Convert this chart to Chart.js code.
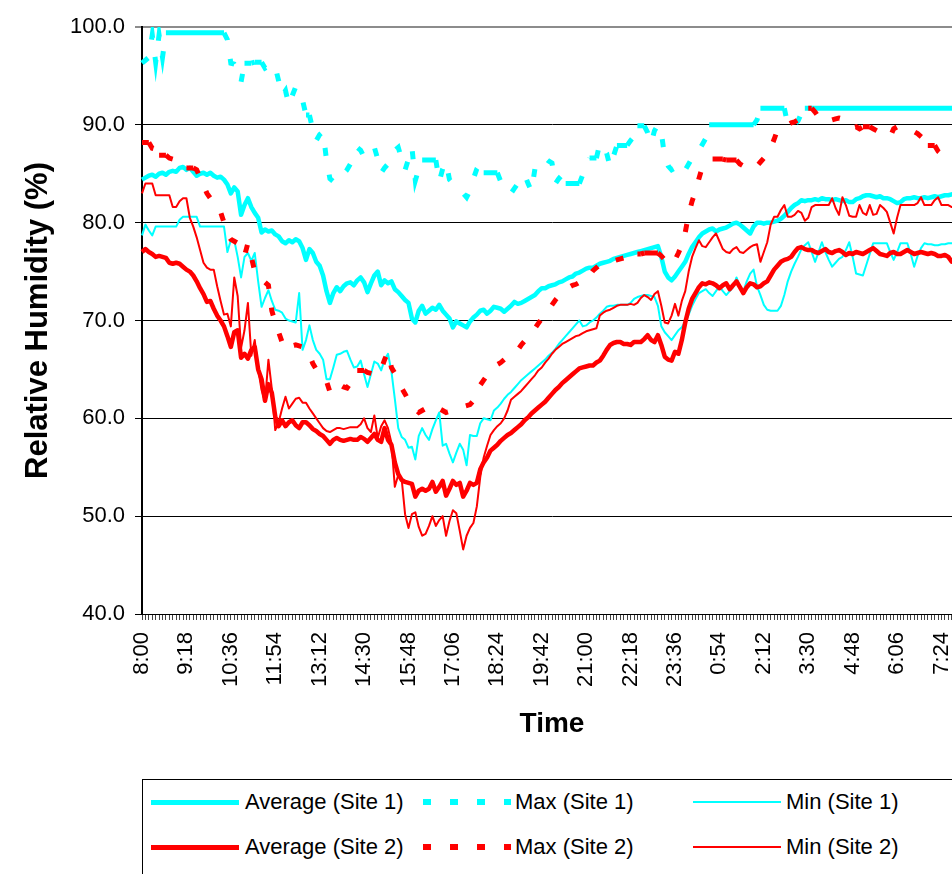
<!DOCTYPE html>
<html>
<head>
<meta charset="utf-8">
<script src="https://cdn.jsdelivr.net/npm/chart.js@4.4.0/dist/chart.umd.min.js"></script>
<style>
  body { margin: 0; width: 952px; height: 874px; overflow: hidden; background: #fff; font-family: "Liberation Sans", Arial, sans-serif; }
  #wrap { position: absolute; left: 0; top: 0; width: 1010px; height: 760px; }
  #legend { position: absolute; left: 142px; top: 779px; width: 900px; height: 130px; border: 1px solid #000; }
  .item { position: absolute; height: 30px; line-height: 30px; font-size: 22px; white-space: nowrap; color: #000; }
  .swatch { position: absolute; }
</style>
</head>
<body>
<div id="wrap"><canvas id="chart" width="1010" height="760"></canvas></div>
<div id="legend"></div>
<script>
// categories: one reading every 6 minutes, 8:00 to 8:00 next day
const times = [];
for (let m = 0; m <= 1440; m += 6) {
  const t = (480 + m) % 1440;
  times.push(Math.floor(t / 60) + ':' + String(t % 60).padStart(2, '0'));
}
const tickLabels = ['8:00', '9:18', '10:36', '11:54', '13:12', '14:30', '15:48', '17:06', '18:24', '19:42',
  '21:00', '22:18', '23:36', '0:54', '2:12', '3:30', '4:48', '6:06', '7:24'];
const yTicks = [40, 50, 60, 70, 80, 90, 100];

const seriesNames = ['Average (Site 1)', 'Max (Site 1)', 'Min (Site 1)', 'Average (Site 2)', 'Max (Site 2)', 'Min (Site 2)'];

const avgSite1 = [
  84.4,84.6,84.8,84.9,84.7,85.0,85.1,84.9,85.2,85.3,
  85.2,85.6,85.7,85.4,85.6,85.2,84.8,85.0,85.1,84.9,
  85.1,84.8,84.6,84.7,84.4,83.9,83.0,83.6,83.2,80.8,
  81.8,82.5,81.6,81.0,80.5,79.0,79.3,79.1,79.2,78.8,
  78.6,78.1,77.9,78.2,78.0,78.3,78.1,77.4,76.2,77.3,
  76.9,76.0,75.6,74.6,73.0,71.8,72.8,73.4,73.0,73.5,
  73.8,73.9,73.6,74.1,74.4,73.9,72.9,73.8,74.6,75.0,
  73.6,74.1,73.8,74.0,73.2,72.9,72.5,72.1,71.8,70.2,
  69.8,71.0,71.5,70.7,71.0,71.3,71.1,71.6,71.0,70.6,
  70.2,69.3,69.9,69.7,69.5,69.3,69.9,70.3,70.6,71.0,
  71.1,70.7,71.0,71.4,71.3,71.2,70.9,71.2,71.5,71.9,
  71.7,71.8,72.0,72.2,72.4,72.6,73.0,73.3,73.3,73.5,
  73.6,73.7,73.9,74.0,74.2,74.4,74.5,74.8,74.9,75.1,
  75.3,75.4,75.4,75.6,75.8,75.9,76.0,76.1,76.3,76.4,
  76.5,76.6,76.7,76.8,76.9,77.0,77.1,77.2,77.3,77.4,
  77.5,77.6,76.5,75.0,74.4,74.1,74.5,75.0,75.5,76.0,
  76.8,77.5,78.0,78.5,78.9,79.1,79.3,79.4,79.1,79.3,
  79.4,79.5,79.7,79.9,80.0,79.8,79.5,79.2,78.9,79.6,
  80.0,80.0,79.9,80.0,80.0,80.1,80.2,80.4,80.7,81.1,
  81.5,81.8,82.0,82.3,82.2,82.3,82.3,82.4,82.3,82.5,
  82.4,82.4,82.3,82.4,82.3,82.2,82.3,82.1,82.1,82.4,
  82.5,82.7,82.8,82.8,82.7,82.6,82.7,82.5,82.5,82.4,
  82.2,82.0,82.1,82.4,82.5,82.5,82.6,82.5,82.5,82.6,
  82.5,82.6,82.7,82.6,82.7,82.8,82.8,82.9,82.8,82.9,
  82.9];

const maxSite1 = [
  96.3,96.6,96.9,99.2,96.4,99.2,96.9,99.4,99.4,99.4,
  99.4,99.4,99.4,99.4,99.4,99.4,99.4,99.4,99.4,99.4,
  99.4,99.4,99.4,99.4,99.4,98.7,96.3,96.2,95.6,94.4,
  96.3,96.3,96.3,96.4,96.4,96.4,95.8,96.0,96.3,95.9,
  94.5,93.0,93.5,92.0,93.0,93.9,93.3,92.5,91.0,91.0,
  89.5,88.4,89.0,89.3,86.4,84.5,84.2,84.1,84.6,85.0,
  85.4,86.0,86.8,87.7,87.4,86.7,87.2,87.5,87.7,86.5,
  85.1,85.6,86.0,86.2,87.4,87.7,86.5,85.4,86.5,87.7,
  84.3,85.5,86.4,86.4,86.4,86.4,86.4,84.2,85.5,86.2,
  84.4,84.0,83.6,83.3,83.0,82.6,83.3,84.5,85.5,86.0,
  85.1,85.1,85.1,85.1,85.1,84.2,83.6,83.2,83.0,83.5,
  84.0,84.4,84.9,84.0,83.2,85.5,86.2,86.5,86.6,86.3,
  86.1,84.0,84.5,84.9,84.0,84.0,84.0,84.0,84.0,84.9,
  85.7,86.6,86.6,86.6,88.1,87.6,87.1,85.7,86.8,87.9,
  87.9,87.9,87.9,88.4,88.8,89.9,89.9,89.9,89.2,88.1,
  89.4,90.0,89.2,86.7,85.8,85.4,85.6,86.1,85.8,85.4,
  86.0,86.6,87.0,87.4,88.0,88.6,90.0,90.0,90.0,90.0,
  90.0,90.0,90.0,90.0,90.0,90.0,90.0,90.0,90.0,90.0,
  90.5,91.7,91.7,91.7,91.7,91.7,91.7,91.7,91.7,90.0,
  89.8,90.0,90.4,91.2,91.7,91.7,91.7,91.7,91.7,91.7,
  91.7,91.7,91.7,91.7,91.7,91.7,91.7,91.7,91.7,91.7,
  91.7,91.7,91.7,91.7,91.7,91.7,91.7,91.7,91.7,91.7,
  91.7,91.7,91.7,91.7,91.7,91.7,91.7,91.7,91.7,91.7,
  91.7,91.7,91.7,91.7,91.7,91.7,91.7,91.7,91.7,91.7,
  91.7];

const minSite1 = [
  78.7,79.8,79.2,78.7,79.6,79.6,79.6,79.6,79.6,79.6,
  79.6,80.3,80.6,80.6,80.6,80.6,80.6,79.6,79.6,79.6,
  79.6,79.6,79.6,79.6,79.6,77.0,78.2,78.2,76.5,74.4,
  76.5,76.9,76.1,76.9,74.0,71.4,72.3,73.1,72.0,71.1,
  71.0,70.8,70.2,70.0,69.9,69.8,72.8,67.0,68.0,69.5,
  68.0,67.0,66.6,66.0,64.0,64.0,65.2,66.5,66.6,66.8,
  66.9,66.0,65.2,65.3,65.9,64.5,63.2,64.5,65.8,65.6,
  64.9,66.0,66.6,64.8,62.0,59.0,58.1,57.8,57.0,57.1,
  55.8,58.2,59.0,58.3,57.8,58.9,59.8,60.6,57.2,57.4,
  56.4,55.5,56.5,57.4,56.8,55.2,58.3,58.2,58.2,59.5,
  60.0,59.9,59.8,60.8,61.1,61.5,62.0,62.4,62.7,63.1,
  63.5,63.9,64.2,64.5,64.8,65.1,65.4,65.7,66.0,66.4,
  66.7,67.1,67.6,68.0,68.4,68.8,69.2,69.6,70.0,69.4,
  69.5,69.8,70.0,70.3,70.7,71.0,71.4,71.5,71.5,71.6,
  71.6,71.6,71.6,71.8,72.2,72.4,72.5,72.6,72.6,72.5,
  72.4,71.5,69.4,68.8,68.4,68.0,68.5,69.0,69.3,69.9,
  70.6,71.5,72.2,72.8,73.0,73.2,72.8,72.5,73.0,73.5,
  73.0,72.6,73.0,73.4,74.4,73.5,73.0,74.0,74.8,75.2,
  73.5,72.6,71.6,71.1,71.0,71.0,71.0,71.5,72.6,74.0,
  75.0,75.8,76.5,77.3,77.7,78.0,77.0,76.0,77.0,78.0,
  77.0,76.2,75.5,75.9,76.3,76.5,77.2,78.0,76.5,74.8,
  74.7,74.6,75.7,76.8,77.9,77.9,77.9,77.9,77.9,77.0,
  76.2,77.0,77.9,77.9,77.9,76.8,75.5,76.6,77.4,77.9,
  77.8,77.8,77.7,77.7,77.8,77.8,77.9,77.9,77.9,77.9,
  77.9];

const avgSite2 = [
  77.0,77.3,77.0,76.8,76.5,76.6,76.5,76.4,75.9,75.8,
  75.9,75.8,75.5,75.2,75.0,74.6,74.0,73.3,72.7,71.9,
  72.0,71.2,70.5,70.0,69.4,68.4,67.3,68.8,69.0,66.2,
  66.6,66.1,67.0,67.3,65.0,64.0,61.8,63.5,62.6,60.2,
  59.2,59.8,59.2,59.6,59.8,59.3,59.0,59.6,59.6,59.3,
  58.9,58.7,58.4,58.2,57.8,57.4,57.8,58.0,57.8,57.7,
  57.8,57.9,57.8,57.8,58.1,57.9,57.6,58.0,58.4,57.8,
  57.6,59.0,57.8,57.3,55.5,54.3,53.7,53.5,53.4,53.3,
  52.0,52.6,52.8,52.6,52.8,53.5,52.5,53.0,53.6,52.1,
  52.8,53.6,53.2,53.4,52.0,52.6,53.4,53.2,53.4,54.8,
  55.5,56.0,56.7,57.0,57.3,57.7,58.0,58.3,58.5,58.8,
  59.1,59.4,59.8,60.1,60.5,60.8,61.1,61.4,61.7,62.1,
  62.5,62.9,63.2,63.6,63.9,64.2,64.5,64.8,65.1,65.2,
  65.3,65.4,65.4,65.7,65.9,66.4,67.0,67.5,67.7,67.8,
  67.8,67.6,67.6,67.5,67.8,67.8,67.8,68.1,68.5,68.0,
  67.8,68.5,67.5,66.3,66.0,65.9,66.8,66.6,68.0,69.8,
  71.2,72.2,72.8,73.4,73.8,73.7,73.9,73.8,73.6,73.3,
  73.6,73.8,73.2,73.6,74.0,73.4,72.8,73.4,73.8,73.7,
  73.4,73.5,73.8,74.0,74.6,75.2,75.6,76.0,76.2,76.3,
  76.5,77.0,77.4,77.5,77.3,77.2,77.2,77.0,76.9,77.1,
  77.3,77.0,76.9,77.1,77.2,77.0,76.7,76.9,76.8,77.0,
  76.9,76.8,77.0,77.2,77.4,77.1,76.8,76.7,76.6,76.9,
  77.0,76.8,76.8,77.0,77.2,77.0,76.8,76.9,77.0,76.9,
  76.8,76.9,76.8,76.6,76.6,76.7,76.5,76.0,76.0,76.0,
  76.0];

const maxSite2 = [
  88.2,88.2,88.2,87.6,87.5,86.9,86.9,86.9,86.6,86.5,
  86.2,86.0,85.8,85.6,85.6,85.6,85.4,84.6,83.8,83.0,
  82.5,82.0,81.6,81.1,80.0,78.8,78.3,78.1,77.9,77.0,
  76.6,77.9,76.5,75.0,74.7,74.3,73.9,73.6,71.0,69.8,
  68.8,67.8,67.0,67.2,67.4,67.5,67.4,67.3,67.2,66.5,
  65.6,65.0,64.6,64.2,63.8,62.7,63.2,63.6,63.4,63.2,
  63.1,63.6,64.3,64.9,64.9,64.9,64.7,64.6,64.5,64.4,
  65.0,66.0,66.8,65.2,64.6,63.8,63.1,62.5,61.8,61.2,
  60.9,60.6,60.8,61.0,61.2,61.4,61.2,61.0,60.8,60.6,
  60.7,60.8,61.0,61.1,61.2,61.3,61.4,61.8,62.6,63.4,
  63.9,64.4,64.8,65.2,65.5,65.7,66.0,66.3,66.5,66.7,
  67.0,67.5,67.9,68.3,68.8,69.2,69.7,70.2,70.6,71.1,
  71.6,72.1,72.5,72.8,73.1,73.4,73.6,73.7,73.9,74.0,
  74.1,74.6,75.1,75.4,75.7,75.8,75.9,76.0,76.1,76.2,
  76.3,76.4,76.5,76.6,76.7,76.8,76.8,76.9,76.9,76.9,
  76.9,76.9,76.6,76.2,75.9,75.7,76.2,76.9,77.7,79.0,
  80.9,82.2,83.2,84.5,85.7,86.0,86.3,86.5,86.5,86.5,
  86.5,86.4,86.4,86.4,86.4,86.0,85.8,85.6,85.4,85.6,
  85.8,86.2,86.6,87.0,87.6,88.5,89.5,89.7,89.9,90.0,
  90.2,90.3,90.5,90.9,91.3,91.7,91.7,91.3,90.8,90.4,
  90.3,90.4,90.5,90.6,90.7,90.6,90.1,89.9,89.7,89.8,
  89.6,89.8,89.8,89.8,89.6,89.4,89.2,89.0,88.9,88.8,
  89.6,89.8,89.7,89.6,89.5,89.4,89.3,89.1,88.8,88.5,
  87.9,87.9,87.9,87.3,87.0,86.8,86.6,86.4,86.3,86.2,
  86.1];

const minSite2 = [
  83.0,84.0,84.0,84.0,82.8,82.8,82.8,82.8,82.8,81.6,
  81.6,82.2,82.5,82.5,80.5,79.6,78.5,77.2,75.9,75.4,
  75.2,75.2,73.5,72.0,70.6,70.7,69.4,74.4,72.5,67.2,
  69.0,71.8,66.4,68.0,65.0,62.9,61.7,66.0,63.0,58.8,
  59.6,61.0,62.2,61.0,61.5,62.0,62.1,61.6,61.6,61.0,
  60.5,60.0,59.5,59.0,58.7,58.6,58.8,59.0,59.0,58.9,
  59.0,59.1,59.1,59.1,59.4,60.0,59.0,58.6,60.3,58.0,
  59.2,59.8,59.0,57.5,53.0,54.2,53.8,50.2,48.8,50.2,
  50.4,48.9,48.0,48.2,49.0,50.0,49.0,49.6,50.0,48.0,
  49.5,50.6,50.3,48.5,46.6,48.0,48.8,49.3,51.0,54.0,
  56.0,57.2,58.3,58.8,59.2,59.5,60.0,60.8,61.9,62.2,
  62.5,62.8,63.2,63.6,64.0,64.4,64.9,65.2,65.7,66.1,
  66.6,67.0,67.3,67.6,67.8,68.0,68.2,68.4,68.5,68.7,
  68.9,69.0,69.1,69.2,70.5,70.8,71.0,71.1,71.3,71.5,
  71.6,71.6,71.6,71.7,71.6,71.8,72.3,72.6,72.4,72.1,
  72.7,73.0,71.5,69.8,69.7,70.5,71.7,70.5,72.0,73.0,
  75.0,76.5,77.4,78.2,77.6,77.5,78.0,78.5,78.9,78.1,
  77.3,77.0,76.9,77.3,77.5,77.0,76.9,77.2,77.5,77.7,
  77.8,76.0,77.0,78.0,79.8,80.6,80.6,81.3,81.8,80.6,
  80.6,80.8,81.2,81.0,80.2,80.5,81.6,81.8,81.8,81.8,
  81.8,81.8,82.5,81.5,80.8,82.6,81.8,80.7,80.6,80.6,
  81.8,81.0,80.8,81.8,80.8,80.9,81.8,81.5,81.1,80.0,
  78.9,80.5,81.8,81.8,81.8,81.8,81.8,82.0,82.6,81.8,
  81.8,81.8,82.3,82.6,81.8,81.8,81.8,81.6,81.6,81.6,
  81.6];

const CYAN = '#00ffff';
const RED = '#ff0000';
const FONT = '"Liberation Sans", Arial, sans-serif';
const DASH = [8, 19];

function line(label, data, color, width, dashed, order) {
  const ds = {
    label: label, data: data, borderColor: color, backgroundColor: color,
    borderWidth: width, pointRadius: 0, tension: 0, fill: false, order: order,
    borderJoinStyle: 'round', dashed: dashed
  };
  if (dashed) {
    ds.borderDash = DASH;
    ds.borderCapStyle = 'butt';
    ds.borderJoinStyle = 'miter';
    // like the Excel picture: runs of equal readings come out solid, changes dashed
    ds.segment = {
      borderDash: c => data[c.p0DataIndex] === data[c.p1DataIndex] ? [] : DASH
    };
  }
  return ds;
}

const datasets = [
  line(seriesNames[0], avgSite1, CYAN, 4.5, false, 6),
  line(seriesNames[1], maxSite1, CYAN, 5, true, 5),
  line(seriesNames[2], minSite1, CYAN, 2, false, 4),
  line(seriesNames[3], avgSite2, RED, 4.5, false, 3),
  line(seriesNames[4], maxSite2, RED, 5, true, 2),
  line(seriesNames[5], minSite2, RED, 2, false, 1)
];

const chart = new Chart(document.getElementById('chart'), {
  type: 'line',
  data: { labels: times, datasets: datasets },
  options: {
    responsive: false,
    animation: false,
    layout: { padding: { left: 0, top: 27, right: 48, bottom: 0 } },
    plugins: { legend: { display: false }, tooltip: { enabled: false } },
    scales: {
      x: {
        offset: false,
        border: { color: '#000', width: 1 },
        grid: { drawOnChartArea: false, drawTicks: true, tickLength: 6, color: '#444', lineWidth: 1 },
        ticks: {
          autoSkip: false, minRotation: 90, maxRotation: 90, padding: 12,
          color: '#000', font: { family: FONT, size: 22 },
          callback: function (v, i) { return tickLabels[i / 13] === times[i] ? times[i] : ''; }
        },
        title: { display: true, text: 'Time', color: '#000', font: { family: FONT, size: 28, weight: 'bold' }, padding: { top: 0, bottom: 19 } },
        afterFit: s => { s.height = 760 - 614; }
      },
      y: {
        min: yTicks[0], max: yTicks[yTicks.length - 1],
        afterBuildTicks: s => { s.ticks = yTicks.map(v => ({ value: v })); },
        border: { color: '#000', width: 2 },
        grid: {
          drawTicks: true, tickLength: 7,
          color: c => c.tick && c.tick.value === 100 ? '#8c8c8c' : '#000',
          lineWidth: c => c.tick && c.tick.value === 100 ? 2 : 1
        },
        ticks: { padding: 10, color: '#000', font: { family: FONT, size: 22 }, callback: v => v.toFixed(1) },
        title: { display: true, text: 'Relative Humidity (%)', color: '#000', font: { family: FONT, size: 31, weight: 'bold' }, padding: { top: 20, bottom: 0 } },
        afterFit: s => { s.width = 142; }
      }
    }
  }
});

// legend laid out like the Excel one: 3 columns, 2 rows
const legend = document.getElementById('legend');
const colPos = [[8, 102], [280, 372], [550, 643]];
const rowPos = [22, 67];
chart.data.datasets.forEach((ds, i) => {
  const col = i % 3, row = Math.floor(i / 3);
  const sw = document.createElement('div');
  sw.className = 'swatch';
  const h = ds.dashed ? 6 : (ds.borderWidth > 3 ? 5 : 2);
  sw.style.left = colPos[col][0] + 'px';
  sw.style.top = (rowPos[row] - h / 2) + 'px';
  sw.style.width = '88px';
  sw.style.height = h + 'px';
  sw.style.background = ds.dashed
    ? 'repeating-linear-gradient(to right, ' + ds.borderColor + ' 0 8px, transparent 8px 27px)'
    : ds.borderColor;
  legend.appendChild(sw);
  const tx = document.createElement('div');
  tx.className = 'item';
  tx.style.left = colPos[col][1] + 'px';
  tx.style.top = (rowPos[row] - 15) + 'px';
  tx.textContent = ds.label;
  legend.appendChild(tx);
});
</script>
</body>
</html>
